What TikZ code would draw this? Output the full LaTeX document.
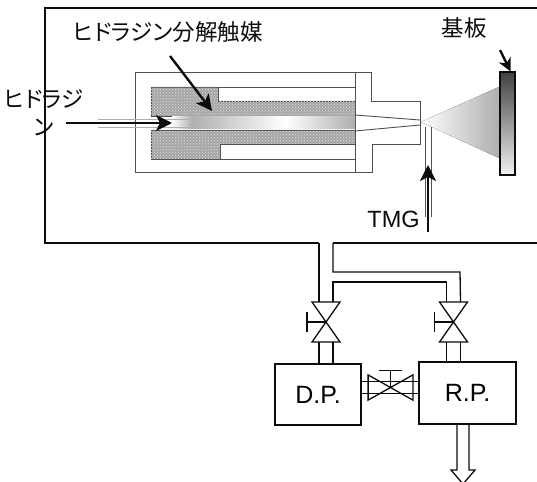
\documentclass[tikz,border=0pt]{standalone}
\usepackage{fontspec}
\setmainfont{Liberation Sans}
\newfontfamily\jpfont[RawFeature=+palt]{Noto Sans CJK JP}
\usetikzlibrary{arrows.meta,positioning,calc,patterns}
\definecolor{ink}{RGB}{12,12,12}
\definecolor{wall}{RGB}{80,80,80}
\definecolor{fume}{RGB}{175,175,175}
\tikzset{
  pipe/.style={draw=ink,line width=1.3pt},
  wallline/.style={draw=wall,line width=.9pt},
  pointer/.style={draw=ink,line width=2.4pt,-{Stealth[length=16pt,width=16pt,inset=4pt]}},
  catalyst/.style={draw=wall,line width=.9pt,fill=gray!70},
  dotted fill/.style={pattern=crosshatch dots,pattern color=gray!25},
  pump/.style={draw=ink,line width=1.3pt,inner sep=0pt,font=\fontsize{25}{25}\selectfont},
  jplabel/.style={inner sep=0pt,text=ink,font=\fontsize{22.5}{28}\selectfont\jpfont},
  valve/.pic={
    \draw[pipe] (-14,-20) -- (14,-20) -- (-14,20) -- (14,20) -- cycle;
    \draw[pipe] (0,0) -- (-19,0) (-19,-10) -- (-19,10);
    \coordinate (-ta) at (-7,-20);
    \coordinate (-tb) at (7,-20);
    \coordinate (-ba) at (-7,20);
    \coordinate (-bb) at (7,20);
  },
}
\begin{document}
\begin{tikzpicture}[x=1pt,y=-1pt]
  \useasboundingbox (0,0) rectangle (537,481);
  \clip (0,0) rectangle (537,481);
  % chamber
  \coordinate (leakl) at (319,243);
  \coordinate (leakr) at (333,243);
  \draw[pipe] (537,8) -- (45,8) -- (45,243) -- (leakl);
  \draw[pipe] (leakr) -- (537,243);

  % nozzle body
  \draw[wallline,fill=white] (135,72) rectangle (355,172);
  \draw[wallline,fill=white] (355,72) -- (371,72) -- (371,101) -- (420,101)
    -- (420,144) -- (372,144) -- (372,172) -- (355,172) -- cycle;
  \draw[wallline] (218,87) -- (355,87) (220,159) -- (355,159);
  \foreach \shapepath in {
      {(151,87) -- (218,87) -- (218,101) -- (355,101) -- (355,116) -- (151,116) -- cycle},
      {(151,130) -- (355,130) -- (355,144) -- (220,144) -- (220,159) -- (151,159) -- cycle}}{
    \draw[catalyst] \shapepath;
    \fill[dotted fill] \shapepath;
  }
  \shade[left color=white,right color=fume] (172,117) rectangle (192,129);
  \shade[left color=fume,right color=white] (192,117) rectangle (285,129);
  \shade[left color=white,right color=fume] (285,117) rectangle (355,129);
  \draw[wallline,draw=fume] (98,119) -- (190,119) (98,127) -- (190,127);
  \draw[wallline] (355,115) -- (420,120) (355,131) -- (420,125);

  % plume and substrate
  \fill[left color=white,right color=fume] (421,122) -- (499,87) -- (499,158) -- cycle;
  \node[draw=ink,line width=1.3pt,inner sep=0pt,minimum width=15pt,minimum height=103pt,
    top color=black!75,bottom color=gray!10] (substrate) at (507.5,123.5) {};
  \coordinate (substratein) at (500,50);

  % tmg tube
  \draw[wallline] (425,127) -- (425,217) (431,127) -- (431,217);

  % labels
  \node[jplabel] (catlabel) at (168,32) {ヒドラジン分解触媒};
  \node[jplabel] (sublabel) at (464,28) {基板};
  \node[jplabel,align=center,text width=86pt] (hydlabel) at (44,113) {ヒドラジ\\ン};
  \node[inner sep=0pt,text=ink,font=\fontsize{23.5}{23.5}\selectfont] (tmglabel) at (393.5,219) {TMG};
  \coordinate (hydin) at (66,123);
  \coordinate (hydend) at (172,123);
  \coordinate (catin) at (170,56);
  \coordinate (catend) at (212,111);
  \coordinate (tmgin) at (428,232);
  \coordinate (tmgend) at (428,165);
  \draw[pointer] (hydin) -- (hydend);
  \draw[pointer] (catin) -- (catend);
  \draw[pointer] (tmgin) -- (tmgend);
  \draw[pointer,-{Stealth[length=13pt,width=13pt,inset=4pt]}] (substratein) -- ($(substrate.north)+(3,0)$);

  % pumps
  \node[pump,minimum width=86pt,minimum height=61pt] (dp) at (318,394.5) {D.P.};
  \node[pump,minimum width=97pt,minimum height=62pt] (rp) at (467.5,393) {R.P.};

  % valves
  \pic (vleft) at (326,322) {valve};
  \pic (vright) at (453.5,322) {valve};
  \pic[rotate=-90,xscale=.9,yscale=1.12] (vmid) at (390.5,387.5) {valve};

  % vacuum lines
  \draw[pipe] (leakl) -- (vleft-ta);
  \draw[pipe] (leakr) |- (460,272) -- (vright-tb);
  \draw[pipe] (vleft-tb) -- (333,282) -| (vright-ta);
  \draw[pipe] (vleft-ba) -- (vleft-ba |- dp.north);
  \draw[pipe] (vleft-bb) -- (vleft-bb |- dp.north);
  \draw[pipe] (vright-ba) -- (vright-ba |- rp.north);
  \draw[pipe] (vright-bb) -- (vright-bb |- rp.north);
  \draw[pipe] (dp.east |- vmid-ta) -- (vmid-ta);
  \draw[pipe] (dp.east |- vmid-tb) -- (vmid-tb);
  \draw[pipe] (vmid-ba) -- (rp.west |- vmid-ba);
  \draw[pipe] (vmid-bb) -- (rp.west |- vmid-bb);

  % exhaust
  \coordinate (exhausttip) at (463,484);
  \draw[pipe] (457,424) -- (457,470) -- (451,470) -- (exhausttip)
    -- (475,470) -- (469,470) -- (469,424);
\end{tikzpicture}
\end{document}
